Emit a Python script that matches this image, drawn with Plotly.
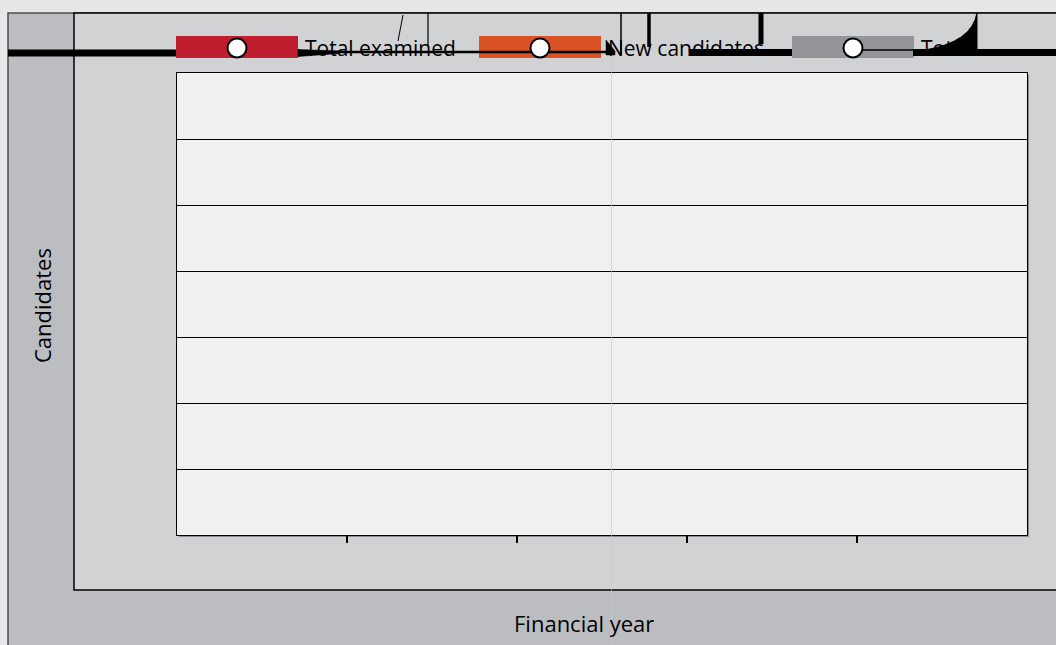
import plotly.graph_objects as go

# ---- data (no data points are visible in the reference) ----
series_names = ["Total examined", "New candidates", "Total"]
series_colors = ["#be1e2d", "#d95326", "#939598"]
series_values = [[None] * 5, [None] * 5, [None] * 5]
x_positions = [0.5, 1.5, 2.5, 3.5, 4.5]
x_tick_vals = [1, 2, 3, 4]
y_tick_vals = [0, 1, 2, 3, 4, 5, 6, 7]

W, H = 1056, 645
L, R, T, B = 177, 1027, 73, 535
FONT = "Open Sans"


def px(x):
    return (x - L) / (R - L)


def py(y):
    return (B - y) / (B - T)


def hline(x0, x1, y, w, color="black"):
    return dict(type="line", xref="paper", yref="paper", x0=px(x0), x1=px(x1), y0=py(y), y1=py(y),
                line=dict(color=color, width=w))


def vline(x, y0, y1, w, color="black"):
    return dict(type="line", xref="paper", yref="paper", x0=px(x), x1=px(x), y0=py(y0), y1=py(y1),
                line=dict(color=color, width=w))


def poly(points):
    d = "M " + " L ".join("%f,%f" % (px(a), py(b)) for a, b in points) + " Z"
    return dict(type="path", xref="paper", yref="paper", path=d, fillcolor="black",
                line=dict(color="black", width=0.5))


fig = go.Figure()
for name, color, vals in zip(series_names, series_colors, series_values):
    fig.add_trace(go.Scatter(x=x_positions, y=vals, name=name, mode="lines+markers",
                             line=dict(color=color, width=3),
                             marker=dict(color="white", size=18, line=dict(color="black", width=2)),
                             showlegend=False))

shapes = []
# outer frame
shapes.append(dict(type="rect", xref="paper", yref="paper", x0=px(8), x1=px(1070), y0=py(13), y1=py(660),
                   fillcolor="#bcbdc0", line=dict(color="#4d4d4d", width=1.5), layer="below"))
# inner panel
shapes.append(dict(type="rect", xref="paper", yref="paper", x0=px(74), x1=px(1070), y0=py(13), y1=py(590),
                   fillcolor="#d1d2d4", line=dict(color="black", width=1.5), layer="below"))
# plot-area shadow + background
shapes.append(dict(type="rect", xref="paper", yref="paper", x0=px(179), x1=px(1029), y0=py(75), y1=py(537),
                   fillcolor="#8c8c8c", line=dict(width=0), layer="below"))
shapes.append(dict(type="rect", xref="paper", yref="paper", x0=0, x1=1, y0=0, y1=1,
                   fillcolor="#eff1f0", line=dict(width=0), layer="below"))
# faint vertical spike line
shapes.append(dict(type="line", xref="paper", yref="paper", x0=px(611.5), x1=px(611.5), y0=py(40), y1=py(645),
                   line=dict(color="rgba(200,200,200,0.6)", width=1)))

# stray strokes along the top (under the legend swatches)
shapes.append(hline(8, 300, 53, 7))

legend_x = [176, 479, 792]
for lx, color in zip(legend_x, series_colors):
    shapes.append(dict(type="rect", xref="paper", yref="paper", x0=px(lx), x1=px(lx + 122), y0=py(58),
                       y1=py(36), fillcolor=color, line=dict(width=0)))

shapes.append(poly([(298, 49.5), (340, 51), (340, 53.5), (298, 56.5)]))
shapes.append(hline(298, 608, 52, 2.5))
shapes.append(poly([(606, 40), (615, 51), (615, 55), (606, 55)]))
shapes.append(hline(690, 792, 52.5, 7))
shapes.append(hline(853, 913, 50, 1.5))
shapes.append(hline(913, 1056, 52.5, 7))
shapes.append(dict(type="line", xref="paper", yref="paper", x0=px(403), x1=px(398), y0=py(15), y1=py(41),
                   line=dict(color="black", width=1)))
for x0, y1, w in [(428, 45, 1.2), (621, 55, 1.5), (649, 47, 3.5), (761, 44, 5)]:
    shapes.append(vline(x0, 13, y1, w))
shapes.append(dict(type="path", xref="paper", yref="paper",
                   path="M %f,%f Q %f,%f %f,%f L %f,%f L %f,%f Z" % (
                       px(925), py(50), px(972), py(42), px(977), py(13), px(977), py(53), px(925), py(53)),
                   fillcolor="black", line=dict(color="black", width=1)))

# legend markers and labels
annotations = []
for lx, name in zip(legend_x, series_names):
    cx = lx + 61
    shapes.append(dict(type="circle", xref="paper", yref="paper", x0=px(cx - 9.5), x1=px(cx + 9.5),
                       y0=py(57.5), y1=py(38.5), fillcolor="white", line=dict(color="black", width=2)))
    annotations.append(dict(text=name, xref="paper", yref="paper", x=px(lx + 127), y=py(48),
                            xanchor="left", yanchor="middle", showarrow=False,
                            font=dict(family=FONT, size=21, color="black")))

annotations.append(dict(text="Financial year", xref="paper", yref="paper", x=px(584), y=py(623),
                        xanchor="center", yanchor="middle", showarrow=False,
                        font=dict(family=FONT, size=22, color="black")))
annotations.append(dict(text="Candidates", xref="paper", yref="paper", x=px(42), y=py(306),
                        xanchor="center", yanchor="middle", showarrow=False, textangle=-90,
                        font=dict(family=FONT, size=22, color="black")))

fig.update_layout(
    width=W, height=H,
    margin=dict(l=L, r=W - R, t=T, b=H - B, pad=0),
    paper_bgcolor="#e6e7e8",
    plot_bgcolor="rgba(0,0,0,0)",
    showlegend=False,
    shapes=shapes,
    annotations=annotations,
    xaxis=dict(range=[0, 5], tickvals=x_tick_vals, ticks="outside", ticklen=7, tickwidth=2,
               tickcolor="black", showticklabels=False, showgrid=False, zeroline=False,
               showline=True, linecolor="black", linewidth=1.2, mirror=True),
    yaxis=dict(range=[0, 7], tickvals=y_tick_vals, showticklabels=False, ticks="",
               showgrid=True, gridcolor="black", gridwidth=1, zeroline=False,
               showline=True, linecolor="black", linewidth=1.2, mirror=True),
)

fig.write_html("out.html", config={"displayModeBar": False},
               post_script="document.body.style.margin='0px';")
